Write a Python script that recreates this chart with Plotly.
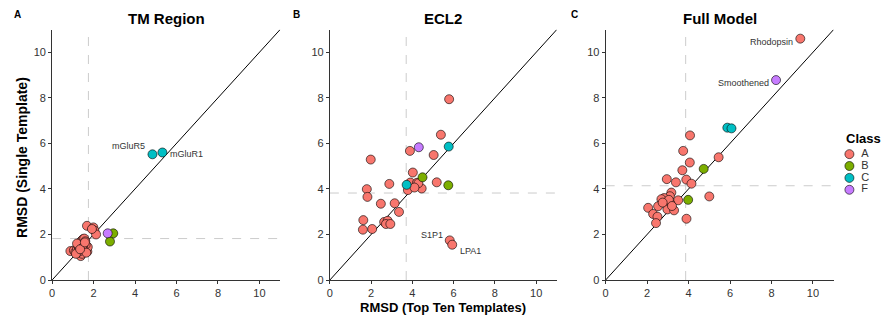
import plotly.graph_objects as go

# ---------------- data ----------------
classes = ["A", "B", "C", "F"]
class_colors = ["#F8766D", "#7CAE00", "#00BFC4", "#C77CFF"]

panel_titles = ["TM Region", "ECL2", "Full Model"]
panel_letters = ["A", "B", "C"]
tick_vals = [0, 2, 4, 6, 8, 10]

# Panel A: TM Region
tm_A_x = [1.68, 1.99, 2.04, 2.12, 1.92, 0.88, 1.05, 1.12, 1.20, 1.25, 1.30, 1.35, 1.40, 1.45, 1.50,
          1.55, 1.60, 1.38, 1.45, 1.55, 1.70, 1.72, 1.62, 1.30, 1.50, 1.20, 1.45, 1.65, 1.15, 1.35, 1.58]
tm_A_y = [2.38, 2.31, 2.17, 2.00, 2.24, 1.27, 1.30, 1.22, 1.38, 1.50, 1.45, 1.60, 1.70, 1.75, 1.80,
          1.82, 1.70, 1.05, 1.15, 1.30, 1.25, 1.45, 1.55, 1.25, 1.50, 1.60, 1.40, 1.20, 1.15, 1.35, 1.65]
tm_B_x = [2.95, 2.79]
tm_B_y = [2.05, 1.69]
tm_C_x = [4.84, 5.32]
tm_C_y = [5.52, 5.60]
tm_F_x = [2.68]
tm_F_y = [2.05]

# Panel B: ECL2
ecl_A_x = [5.78, 5.38, 3.88, 5.03, 1.98, 4.02, 2.88, 5.18, 1.79, 4.45, 3.90, 4.22, 4.29, 3.78,
           4.10, 1.82, 2.47, 3.14, 3.35, 1.62, 2.63, 2.80, 2.72, 2.93, 1.60, 2.05, 5.81, 5.93]
ecl_A_y = [7.94, 6.38, 5.67, 5.49, 5.29, 4.72, 4.22, 4.29, 3.99, 4.02, 4.28, 4.27, 4.25, 3.95,
           4.06, 3.65, 3.35, 3.37, 2.99, 2.63, 2.55, 2.60, 2.46, 2.46, 2.21, 2.24, 1.74, 1.55]
ecl_B_x = [4.49, 5.74]
ecl_B_y = [4.51, 4.16]
ecl_C_x = [3.72, 5.76]
ecl_C_y = [4.18, 5.86]
ecl_F_x = [4.31]
ecl_F_y = [5.83]

# Panel C: Full Model
full_A_x = [9.39, 4.07, 3.74, 5.45, 4.06, 3.70, 2.95, 3.89, 3.39, 4.14, 5.00, 3.90, 3.17, 3.10,
            2.82, 2.69, 3.50, 2.88, 3.12, 2.53, 2.98, 3.30, 2.05, 2.29, 2.50, 2.43, 3.05, 2.75, 3.20]
full_A_y = [10.60, 6.35, 5.67, 5.39, 5.16, 4.82, 4.43, 4.41, 4.29, 4.23, 3.67, 2.69, 3.84, 3.68,
            3.60, 3.55, 3.50, 3.39, 3.36, 3.24, 3.10, 3.06, 3.17, 2.90, 2.78, 2.50, 3.52, 3.40, 3.25]
full_B_x = [4.73, 3.98]
full_B_y = [4.88, 3.52]
full_C_x = [5.87, 6.07]
full_C_y = [6.69, 6.66]
full_F_x = [8.22]
full_F_y = [8.78]

# medians (dashed reference lines)
median_x = [1.75, 3.70, 3.86]
median_y = [1.82, 3.82, 4.14]

# point labels
label_panel = [0, 0, 1, 1, 2, 2]
label_names = ["mGluR5", "mGluR1", "S1P1", "LPA1", "Rhodopsin", "Smoothened"]
label_x = [4.84, 5.32, 5.81, 5.93, 9.39, 8.22]
label_y = [5.52, 5.60, 1.74, 1.55, 10.60, 8.78]
label_side = ["left", "right", "left", "right", "left", "left"]
label_dy = [8, -2, 5, -6, -3, -3]

panels = [
    [(tm_A_x, tm_A_y), (tm_B_x, tm_B_y), (tm_C_x, tm_C_y), (tm_F_x, tm_F_y)],
    [(ecl_A_x, ecl_A_y), (ecl_B_x, ecl_B_y), (ecl_C_x, ecl_C_y), (ecl_F_x, ecl_F_y)],
    [(full_A_x, full_A_y), (full_B_x, full_B_y), (full_C_x, full_C_y), (full_F_x, full_F_y)],
]

# ---------------- figure ----------------
W, H = 884, 323
FONT = "Liberation Sans, Arial, sans-serif"
x_domains = [(49.3 / W, 278.1 / W), (328.0 / W, 555.7 / W), (604.7 / W, 833.5 / W)]
y_domain = ((H - 285.3) / H, (H - 30.1) / H)
LIM = 11

fig = go.Figure()

for p in range(3):
    xa = "x" if p == 0 else f"x{p+1}"
    ya = "y" if p == 0 else f"y{p+1}"
    fig.add_trace(go.Scatter(x=[median_x[p], median_x[p]], y=[0, LIM], mode="lines",
                             line=dict(color="#cccccc", width=1, dash="dash"),
                             xaxis=xa, yaxis=ya, showlegend=False, hoverinfo="skip"))
    fig.add_trace(go.Scatter(x=[0, LIM], y=[median_y[p], median_y[p]], mode="lines",
                             line=dict(color="#cccccc", width=1, dash="dash"),
                             xaxis=xa, yaxis=ya, showlegend=False, hoverinfo="skip"))
    fig.add_trace(go.Scatter(x=[0, LIM], y=[0, LIM], mode="lines",
                             line=dict(color="black", width=1),
                             xaxis=xa, yaxis=ya, showlegend=False, hoverinfo="skip"))
    for ci, (xs, ys) in enumerate(panels[p]):
        fig.add_trace(go.Scatter(x=xs, y=ys, mode="markers", name=classes[ci],
                                 showlegend=False,
                                 marker=dict(color=class_colors[ci], size=9,
                                             line=dict(color="black", width=0.6)),
                                 xaxis=xa, yaxis=ya))

# legend drawn as a small keyed scatter on its own hidden axes
legend_rows = list(range(len(classes)))
fig.add_trace(go.Scatter(x=[0] * len(classes), y=legend_rows, mode="markers",
                         marker=dict(color=class_colors, size=9,
                                     line=dict(color="black", width=0.6)),
                         xaxis="x4", yaxis="y4", showlegend=False, hoverinfo="skip"))
fig.add_trace(go.Scatter(x=[12] * len(classes), y=legend_rows, mode="text", text=classes,
                         textposition="middle right",
                         textfont=dict(size=11, color="#333333", family=FONT),
                         xaxis="x4", yaxis="y4", showlegend=False, hoverinfo="skip"))

axis_common = dict(range=[0, LIM], tickvals=tick_vals, showgrid=False, zeroline=False,
                   showline=True, linecolor="#333333", linewidth=1, ticks="outside",
                   ticklen=3, tickcolor="#333333", tickfont=dict(size=11, color="#333333", family=FONT),
                   fixedrange=True)

layout = dict(
    width=W, height=H, margin=dict(l=0, r=0, t=0, b=0),
    plot_bgcolor="white", paper_bgcolor="white",
    font=dict(family=FONT, color="#333333"),
    showlegend=False,
)
for p in range(3):
    xk = "xaxis" if p == 0 else f"xaxis{p+1}"
    yk = "yaxis" if p == 0 else f"yaxis{p+1}"
    layout[xk] = dict(axis_common, domain=list(x_domains[p]), anchor="y" if p == 0 else f"y{p+1}")
    layout[yk] = dict(axis_common, domain=list(y_domain), anchor="x" if p == 0 else f"x{p+1}")

layout["xaxis4"] = dict(domain=[840 / W, 884 / W], range=[-9.3, 34.7], visible=False,
                        fixedrange=True, anchor="y4")
layout["yaxis4"] = dict(domain=[(H - 199.4) / H, (H - 151) / H], range=[3.5, -0.5],
                        visible=False, fixedrange=True, anchor="x4")

fig.update_layout(**layout)

annotations = []
letter_x = [15, 295, 573]
for p in range(3):
    cx = (x_domains[p][0] + x_domains[p][1]) / 2
    annotations.append(dict(text=f"<b>{panel_titles[p]}</b>", x=cx, y=1 - 19 / H,
                            xref="paper", yref="paper", showarrow=False,
                            font=dict(size=15, color="black", family=FONT),
                            xanchor="center", yanchor="middle"))
    annotations.append(dict(text=f"<b>{panel_letters[p]}</b>", x=letter_x[p] / W, y=1 - 15 / H,
                            xref="paper", yref="paper", showarrow=False,
                            font=dict(size=10, color="black", family=FONT),
                            xanchor="center", yanchor="middle"))

annotations.append(dict(text="<b>Class</b>", x=844 / W, y=1 - 141 / H,
                        xref="paper", yref="paper", showarrow=False,
                        font=dict(size=13, color="black", family=FONT),
                        xanchor="left", yanchor="middle"))
annotations.append(dict(text="<b>RMSD (Single Template)</b>", x=19 / W, y=1 - 160 / H,
                        xref="paper", yref="paper", showarrow=False, textangle=-90,
                        font=dict(size=14, color="black", family=FONT),
                        xanchor="center", yanchor="middle"))
annotations.append(dict(text="<b>RMSD (Top Ten Templates)</b>",
                        x=(x_domains[1][0] + x_domains[1][1]) / 2, y=1 - 313 / H,
                        xref="paper", yref="paper", showarrow=False,
                        font=dict(size=13, color="black", family=FONT),
                        xanchor="center", yanchor="middle", borderpad=0))

for i in range(len(label_names)):
    p = label_panel[i]
    xr = "x" if p == 0 else f"x{p+1}"
    yr = "y" if p == 0 else f"y{p+1}"
    left = label_side[i] == "left"
    annotations.append(dict(text=label_names[i], x=label_x[i], y=label_y[i], xref=xr, yref=yr,
                            showarrow=False, xanchor="right" if left else "left",
                            yanchor="middle", xshift=-5 if left else 6, yshift=label_dy[i],
                            font=dict(size=9, color="#333333", family=FONT)))

fig.update_layout(annotations=annotations)
fig.write_html("out.html")
